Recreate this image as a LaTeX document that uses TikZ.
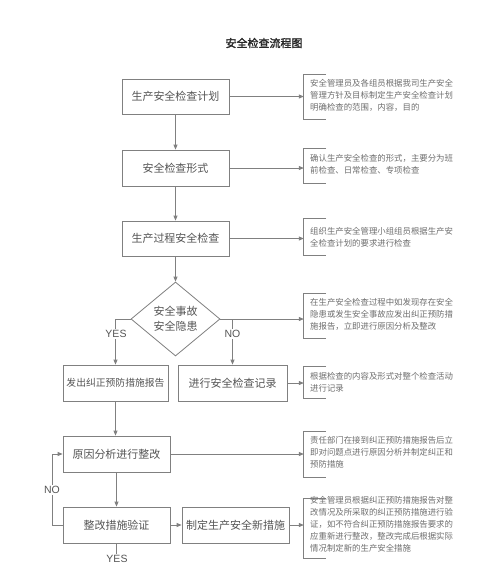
\documentclass[tikz,border=0pt]{standalone}
\usepackage{fontspec}
\setmainfont{Liberation Sans}
\newfontfamily\cjk{Noto Sans CJK SC}
\newfontfamily\cjkb[FakeBold=1.5]{Noto Sans CJK SC}
\usetikzlibrary{shapes.geometric,arrows.meta}
\definecolor{lc}{HTML}{808080}
\definecolor{tc}{HTML}{555555}
\definecolor{dc}{HTML}{6E6E6E}
\begin{document}
\begin{tikzpicture}[x=1pt,y=-1pt,
  line/.style={draw=lc, line width=0.8pt},
  arr/.style={line, -{Triangle[length=5pt,width=4pt]}},
  box/.style={draw=lc, line width=0.8pt, rectangle, minimum width=107pt, minimum height=36pt, inner sep=0pt, text=tc, font=\cjk\fontsize{11}{13}\selectfont},
  dia/.style={diamond, draw=lc, line width=0.8pt, minimum width=89pt, minimum height=74pt, inner sep=0pt, aspect=1.2, align=center, text=tc, font=\cjk\fontsize{11}{15}\selectfont},
  brk/.style={rectangle, minimum width=22pt, inner sep=0pt},
  desc/.style={anchor=west, align=left, inner sep=0pt, text=dc, font=\cjk\fontsize{8.4}{12}\selectfont},
  lbl/.style={fill=white, inner sep=1pt, text=tc, font=\fontsize{10.5}{12}\selectfont}]
\useasboundingbox[fill=white] (0,0) rectangle (500,566);

\node[text=black!85, font=\cjkb\fontsize{11}{13}\selectfont] (title) at (264,43) {安全检查流程图};

% main boxes
\node[box, minimum height=35pt] (plan) at (175.5,96.5) {生产安全检查计划};
\node[box] (form) at (175.5,168) {安全检查形式};
\node[box, minimum height=35pt] (proc) at (175.5,238.5) {生产过程安全检查};
\node[dia] (dm) at (175.5,319) {安全事故\\安全隐患};
\node[box, minimum width=105pt, font=\cjk\fontsize{9.8}{12}\selectfont] (rep) at (115.5,383) {发出纠正预防措施报告};
\node[box, minimum width=109pt] (rec) at (232.5,383) {进行安全检查记录};
\node[box] (cause) at (116.5,454) {原因分析进行整改};
\node[box] (ver) at (116.5,525) {整改措施验证};
\node[box] (new) at (235.5,525) {制定生产安全新措施};

% bracket nodes
\node[brk, minimum height=44pt] (b1) at (315,97) {};
\node[brk, minimum height=34pt] (b2) at (315,166) {};
\node[brk, minimum height=36pt] (b3) at (315,237) {};
\node[brk, minimum height=44pt] (b4) at (315,316) {};
\node[brk, minimum height=31pt] (b5) at (315,382.5) {};
\node[brk, minimum height=45pt] (b6) at (315,454.5) {};
\node[brk, minimum height=59pt] (b7) at (315,528.5) {};
\foreach \b in {b1,b2,b3,b4,b5,b6,b7}{
  \draw[line] (\b.north east) -- (\b.north west) -- (\b.south west) -- (\b.south east);
}

% description texts
\node[desc] (t1) at (310,95) {安全管理员及各组员根据我司生产安全\\管理方针及目标制定生产安全检查计划\\明确检查的范围，内容，目的};
\node[desc] (t2) at (310,164.5) {确认生产安全检查的形式，主要分为班\\前检查、日常检查、专项检查};
\node[desc] (t3) at (310,237.5) {组织生产安全管理小组组员根据生产安\\全检查计划的要求进行检查};
\node[desc] (t4) at (310,314.5) {在生产安全检查过程中如发现存在安全\\隐患或发生安全事故应发出纠正预防措\\施报告，立即进行原因分析及整改};
\node[desc] (t5) at (310,382.5) {根据检查的内容及形式对整个检查活动\\进行记录};
\node[desc] (t6) at (310,452) {责任部门在接到纠正预防措施报告后立\\即对问题点进行原因分析并制定纠正和\\预防措施};
\node[desc] (t7) at (310,524.5) {安全管理员根据纠正预防措施报告对整\\改情况及所采取的纠正预防措施进行验\\证，如不符合纠正预防措施报告要求的\\应重新进行整改，整改完成后根据实际\\情况制定新的生产安全措施};

% vertical flow
\draw[arr] (plan) -- (form);
\draw[arr] (form) -- (proc);
\draw[arr] (proc) -- (dm);
\draw[arr] (dm.west) -| (rep.north);
\draw[arr] (dm.east) -| (rec.north);
\draw[arr] (rep.south) -- (rep.south |- cause.north);
\draw[arr] (cause) -- (ver);
\draw[arr] (ver) -- (new);

% to descriptions
\draw[arr] (plan.east) -- (plan.east -| b1.west);
\draw[arr] (form.east) -- (form.east -| b2.west);
\draw[arr] (proc.east) -- (proc.east -| b3.west);
\draw[arr] (dm.east) -- (dm.east -| b4.west);
\draw[arr] (rec.east) -- (rec.east -| b5.west);
\draw[arr] (cause.east) -- (cause.east -| b6.west);
\draw[arr] (new.east) -- (new.east -| b7.west);

% NO loop
\coordinate (loop) at (52,525);
\draw[arr] (ver.west) -- (loop) |- (cause.west);

% labels
\node[lbl] (yes1) at (116,334) {YES};
\node[lbl] (no1) at (232.5,334) {NO};
\node[lbl] (no2) at (52,490) {NO};
\node[lbl, fill=none] (yes2) at (117,559) {YES};
\draw[line] (ver.south) -- (ver.south |- yes2.north);
\end{tikzpicture}
\end{document}
